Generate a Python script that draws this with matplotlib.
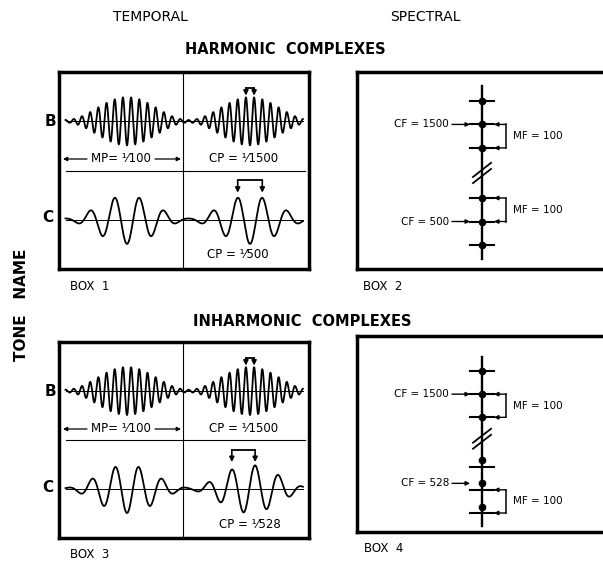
import matplotlib.pyplot as plt
import numpy as np

W, H = 603, 565
PX_PER_S = 12300.0          # horizontal scale of the temporal boxes

# tone components (Hz)
MF = 100
B_PARTIALS = [1400, 1500, 1600]
C_HARMONIC = [400, 500, 600]
C_INHARMONIC = [428, 528, 628]
PARTIAL_AMPS = [0.45, 1.0, 0.45]
HARMONIC_GRID = [1600, 1500, 1400, 600, 500, 400]
BREAK_SHIFT = 587           # upper group drawn this much lower (broken axis)

plt.rcParams['font.family'] = 'DejaVu Sans'
fig = plt.figure(figsize=(W / 100, H / 100), dpi=100)


def px_axes(left, top, right, bottom, z=1):
    "Axes placed by pixel edges of the 603x565 figure."
    return fig.add_axes([left / W, 1 - bottom / H,
                         (right - left) / W, (bottom - top) / H], zorder=z)


def tone(t, partials):
    "Cosine-phase complex, normalised so the envelope peak is 1."
    s = np.zeros_like(t)
    for f, a in zip(partials, PARTIAL_AMPS):
        s -= a * np.cos(2 * np.pi * f * t)
    return s / sum(PARTIAL_AMPS)


def arrow(ax, x0, y0, x1, y1, lw=1.0, ms=7):
    ax.annotate("", xy=(x1, y1), xytext=(x0, y0),
                arrowprops=dict(arrowstyle='-|>', lw=lw, color='k',
                                mutation_scale=ms, shrinkA=0, shrinkB=0))


def bracket(ax, partials, base, top, tip):
    "Marks two neighbouring fine-structure peaks at the envelope centre."
    cf = partials[1]
    k = round(cf / MF)
    t1, t2 = (k - 0.5) / cf, (k + 0.5) / cf
    ax.plot([t1, t2], [base + top, base + top], color='k', lw=1.3)
    arrow(ax, t1, base + top, t1, base + tip, lw=1.2)
    arrow(ax, t2, base + top, t2, base + tip, lw=1.2)


def temporal_box(top, bottom, c_partials):
    ax = px_axes(59, top, 309, bottom)
    ax.set_xlim(-68 / PX_PER_S, 182 / PX_PER_S)
    ax.set_ylim(-2, 2)
    ax.set_xticks([])
    ax.set_yticks([])
    for sp in ax.spines.values():
        sp.set_linewidth(2.5)
    t = np.linspace(-0.5 / MF, 1.43 / MF, 4000)
    for base, partials in [(1, B_PARTIALS), (-1, c_partials)]:
        ax.plot(t, base + 0.49 * tone(t, partials), color='k', lw=1.3)
        ax.plot([t[0], t[-1]], [base, base], color='k', lw=0.7)
    ax.plot([t[0], t[-1] + 2 / PX_PER_S], [0, 0], color='k', lw=0.8)
    ax.axvline(56 / PX_PER_S, color='k', lw=0.8)
    bracket(ax, B_PARTIALS, 1, 0.67, 0.52)
    bracket(ax, c_partials, -1, 0.8, 0.55)
    return ax


def plot_y(f):
    return f - BREAK_SHIFT if f > 1000 else f


def spectral_box(top, bottom, ylim, c_partials, c_label):
    ax = px_axes(357, top, 625, bottom)
    ax.set_xlim(0, 268)
    ax.set_ylim(*ylim)
    ax.set_xticks([])
    ax.set_yticks([])
    for sp in ax.spines.values():
        sp.set_linewidth(2.5)
    x0 = 125
    ax.plot([x0, x0], [342, 1075], color='k', lw=1.7)
    for f in HARMONIC_GRID:
        ax.plot([x0 - 12, x0 + 12], [plot_y(f)] * 2, color='k', lw=1.5)
    for f in B_PARTIALS + c_partials:
        ax.plot(x0, plot_y(f), 'o', color='k', ms=4.5)
    # break marks
    ym = (plot_y(B_PARTIALS[0]) + c_partials[-1]) / 2
    for d in (-13, 13):
        ax.plot([x0 - 9, x0 + 9], [ym + d - 30, ym + d + 30], color='k', lw=1.3)
    # centre frequency pointers
    for f, lab in [(B_PARTIALS[1], "CF = 1500"), (c_partials[1], c_label)]:
        y = plot_y(f)
        arrow(ax, x0 - 30, y, x0 - 12, y, ms=6)
        ax.text(x0 - 33, y, lab, ha='right', va='center', fontsize=7.5)
    # modulation frequency brackets
    for fa, fb in [(B_PARTIALS[1], B_PARTIALS[0]),
                   (HARMONIC_GRID[3], HARMONIC_GRID[4])
                   if c_partials == C_HARMONIC else
                   (HARMONIC_GRID[4], HARMONIC_GRID[5])]:
        ya, yb = plot_y(fa), plot_y(fb)
        ax.plot([x0 + 24, x0 + 24], [ya, yb], color='k', lw=1.1)
        arrow(ax, x0 + 24, ya, x0 + 12, ya, ms=6)
        arrow(ax, x0 + 24, yb, x0 + 12, yb, ms=6)
        ax.text(x0 + 31, (ya + yb) / 2, "MF = 100", ha='left', va='center',
                fontsize=7.5)
    return ax


temporal_box(72, 269, C_HARMONIC)
temporal_box(342, 538, C_INHARMONIC)
spectral_box(72, 269, (298, 1136), C_HARMONIC, "CF = 500")
spectral_box(336, 532, (318, 1164), C_INHARMONIC, "CF = 528")

# text layer in pixel coordinates
ov = px_axes(0, 0, W, H, z=5)
ov.set_xlim(0, W)
ov.set_ylim(H, 0)
ov.axis('off')
ov.patch.set_alpha(0)


def T(s, x, y, size=9, **kw):
    kw.setdefault('ha', 'center')
    ov.text(x, y, s, fontsize=size, va='center', **kw)


T("TEMPORAL", 150, 17, 10)
T("SPECTRAL", 425, 17, 10)
T("HARMONIC  COMPLEXES", 285, 50, 10.5, fontweight='bold')
T("INHARMONIC  COMPLEXES", 302, 322, 10.5, fontweight='bold')
T("TONE   NAME", 22, 305, 11, fontweight='bold', rotation=90)

for dy, cp_c, xc in [(0, "CP = \u00b9\u2044500", 238),
                     (270, "CP = \u00b9\u2044528", 250)]:
    T("B", 50, 122 + dy, 11, fontweight='bold')
    T("C", 48, 218 + dy, 11, fontweight='bold')
    T("MP= \u00b9\u2044100", 121, 159 + dy, 8.5)
    arrow(ov, 87, 159 + dy, 63, 159 + dy, lw=0.9, ms=6)
    arrow(ov, 155, 159 + dy, 181, 159 + dy, lw=0.9, ms=6)
    T("CP = \u00b9\u20441500", 244, 158 + dy, 8.5)
    T(cp_c, xc, 255 + dy, 8.5)

T("BOX  1", 70, 287, 8.5, ha='left')
T("BOX  2", 363, 287, 8.5, ha='left')
T("BOX  3", 70, 554, 8.5, ha='left')
T("BOX  4", 364, 548, 8.5, ha='left')

fig.savefig("out.png", dpi=100)
